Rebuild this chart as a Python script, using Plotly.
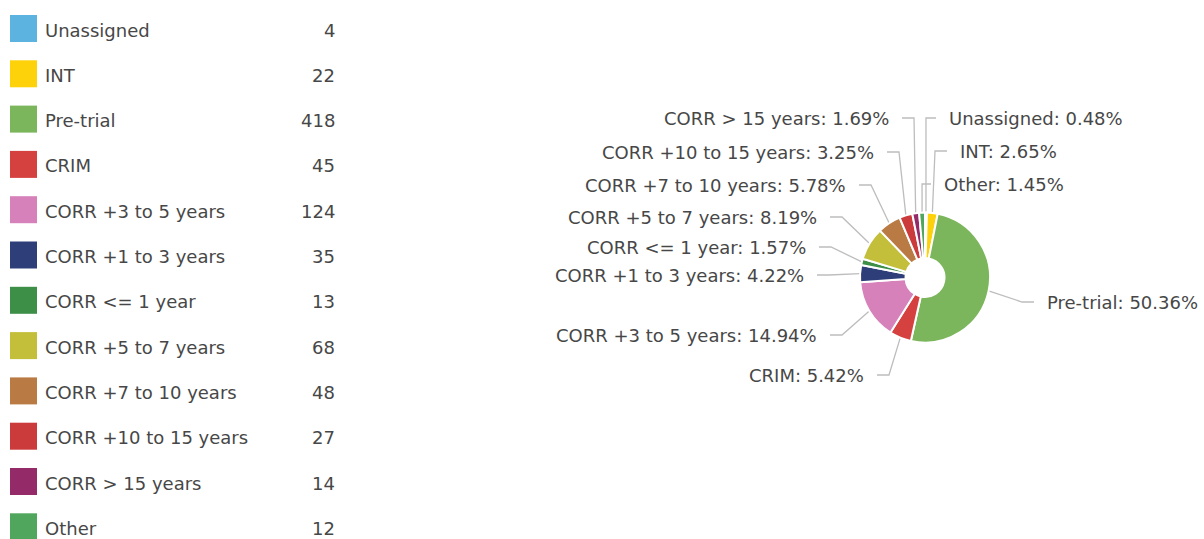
import math
import plotly.graph_objects as go

# ---------------- data ----------------
categories = ["Unassigned", "INT", "Pre-trial", "CRIM", "CORR +3 to 5 years",
              "CORR +1 to 3 years", "CORR <= 1 year", "CORR +5 to 7 years",
              "CORR +7 to 10 years", "CORR +10 to 15 years", "CORR > 15 years", "Other"]
counts = [4, 22, 418, 45, 124, 35, 13, 68, 48, 27, 14, 12]
colors = ["#5cb3df", "#fdd20a", "#7cb65c", "#d5413f", "#d681b9", "#2d3e79",
          "#3d8f48", "#c3bf3b", "#b97a44", "#cc3b3b", "#952a68", "#4fa65c"]

# ---------------- layout constants ----------------
W, H = 1204, 539
FONT = "DejaVu Sans"
FS = 18
TXT = "#474747"
LINE = "#bdbdbd"

# pie placement (pixels)
CX, CY, R = 925, 277.5, 65
# label anchors (pixel edge x, center y) for each category, same order
label_x = [947, 958, 1045, 866, 819, 806, 808, 819, 848, 876, 891, 942]
label_y = [118, 151, 302, 375, 335, 275, 247, 217, 185, 152, 118, 184]

# legend table rows
LEG_Y0, LEG_DY = 28.5, 45.3

total = sum(counts)
pcts = [c / total * 100 for c in counts]

fig = go.Figure()

fig.add_trace(go.Pie(
    labels=categories, values=counts, sort=False, direction="clockwise", rotation=0,
    hole=0.3, textinfo="none", showlegend=False,
    marker=dict(colors=colors, line=dict(color="white", width=2)),
    domain=dict(x=[(CX - R) / W, (CX + R) / W], y=[1 - (CY + R) / H, 1 - (CY - R) / H]),
))

# connectors and labels
annotations = []
cum = 0.0
for i, (cat, v) in enumerate(zip(categories, counts)):
    mid = (cum + v / 2) / total * 2 * math.pi
    cum += v
    px = CX + R * math.sin(mid)
    py = CY - R * math.cos(mid)
    lx, ly = label_x[i], label_y[i]
    side = 1 if lx < CX else -1
    x0 = lx + side * 11
    xb = x0 + side * 12
    if side == 1:
        xb = min(xb, px)
    else:
        xb = max(xb, px)
    fig.add_trace(go.Scatter(x=[x0, xb, px], y=[ly, ly, py], mode="lines",
                             line=dict(color=LINE, width=1.3), hoverinfo="skip",
                             showlegend=False, xaxis="x", yaxis="y"))
    annotations.append(dict(x=lx, y=ly, xref="x", yref="y", showarrow=False,
                            text=f"{cat.replace('<', '&lt;').replace('>', '&gt;')}: {pcts[i]:.2f}%",
                            xanchor="right" if side == 1 else "left", yanchor="middle",
                            font=dict(family=FONT, size=FS, color=TXT)))

# legend table
leg_y = [LEG_Y0 + k * LEG_DY for k in range(len(categories))]
fig.add_trace(go.Scatter(x=[23.5] * len(categories), y=leg_y, mode="markers",
                         marker=dict(symbol="square", size=27, color=colors, line=dict(width=0)),
                         hoverinfo="skip", showlegend=False, xaxis="x", yaxis="y"))
for k, cat in enumerate(categories):
    annotations.append(dict(x=43, y=leg_y[k] + 1.5, xref="x", yref="y", showarrow=False,
                            text=cat.replace('<', '&lt;').replace('>', '&gt;'),
                            xanchor="left", yanchor="middle",
                            font=dict(family=FONT, size=FS, color=TXT)))
    annotations.append(dict(x=337, y=leg_y[k] + 1.5, xref="x", yref="y", showarrow=False,
                            text=str(counts[k]), xanchor="right", yanchor="middle",
                            font=dict(family=FONT, size=FS, color=TXT)))

fig.update_layout(
    width=W, height=H, autosize=False,
    margin=dict(l=0, r=0, t=0, b=0),
    paper_bgcolor="white", plot_bgcolor="rgba(0,0,0,0)",
    xaxis=dict(range=[0, W], visible=False, fixedrange=True, domain=[0, 1]),
    yaxis=dict(range=[H, 0], visible=False, fixedrange=True, domain=[0, 1]),
    annotations=annotations,
    showlegend=False,
)

fig.write_html("out.html", config={"displayModeBar": False},
               post_script="document.body.style.margin='0';document.body.style.overflow='hidden';")
